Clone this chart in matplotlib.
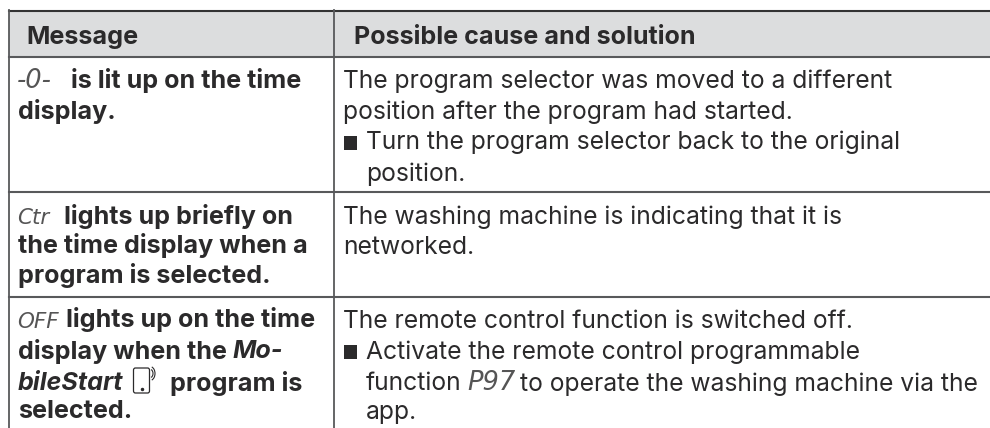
import matplotlib
matplotlib.use("Agg")
import matplotlib.pyplot as plt
from matplotlib.patches import Rectangle, FancyBboxPatch, Arc

W, H = 990, 428
FONT = "Inter"
INK = "#2b2a2b"
LINE = "#58595b"

headers = ["Message", "Possible cause and solution"]

# each line is a list of (x, text, style) runs: b = bold, i = bold italic, r = regular
# s and t are the segment display codes, x None carries on after the previous run
left_lines = [
    (87, [(17, "-0-", "t"), (71, "is lit up on the time", "b")]),
    (118, [(18, "display.", "b")]),
    (223, [(17, "Ctr", "s"), (64, "lights up briefly on", "b")]),
    (253, [(18, "the time display when a", "b")]),
    (283, [(18, "program is selected.", "b")]),
    (327, [(17, "OFF", "s"), (66, "lights up on the time", "b")]),
    (358, [(18, "display when the ", "b"), (None, "Mo-", "i")]),
    (390, [(18, "bileStart", "i"), (170, "program is", "b")]),
    (418, [(18, "selected.", "b")]),
]

right_lines = [
    (87, [(343, "The program selector was moved to a different", "r")]),
    (118, [(343, "position after the program had started.", "r")]),
    (149, [(366, "Turn the program selector back to the original", "r")]),
    (180, [(366, "position.", "r")]),
    (223, [(343, "The washing machine is indicating that it is", "r")]),
    (253, [(343, "networked.", "r")]),
    (327, [(343, "The remote control function is switched off.", "r")]),
    (358, [(366, "Activate the remote control programmable", "r")]),
    (390, [(366, "function", "r"), (467, "P97", "t"), (520, "to operate the washing machine via the", "r")]),
    (418, [(366, "app.", "r")]),
]

bullet_rows = [149, 358]

styles = {
    "b": dict(family=FONT, weight="bold", fontsize=18.1),
    "i": dict(family=FONT, weight="bold", style="italic", fontsize=18.1),
    "r": dict(family=FONT, weight="normal", fontsize=17.75),
    "s": dict(family="DejaVu Sans", style="italic", fontsize=15.5, alpha=0.8),
    "t": dict(family="DejaVu Sans", style="italic", fontsize=18.5, alpha=0.8),
}

fig = plt.figure(figsize=(W / 100, H / 100), dpi=100)
ax = fig.add_axes([0, 0, 1, 1])
ax.set_xlim(0, W)
ax.set_ylim(H, 0)
ax.axis("off")


def draw_runs(y, runs):
    rend = fig.canvas.get_renderer()
    x = 0
    for x0, txt, st in runs:
        if x0 is not None:
            x = x0
        ax.text(x, y, txt, color=INK, va="baseline", ha="left", **styles[st])
        # trailing spaces count in the layout, so measure with a stop character
        probe = ax.text(0, 0, txt + ".", **styles[st])
        stop = ax.text(0, 0, ".", **styles[st])
        x += probe.get_window_extent(rend).width - stop.get_window_extent(rend).width
        probe.remove()
        stop.remove()


# header band and grid, the page crop cuts the table at the right and bottom
ax.add_patch(Rectangle((9, 10), W - 9, 47, fc="#dcddde", ec="none", zorder=0))
ax.plot([9, W], [10.5, 10.5], color="#333333", lw=1.5)
for y in [57, 192, 297]:
    ax.plot([9, W], [y, y], color=LINE, lw=1.5)
for x in [9, 334]:
    ax.plot([x, x], [10, H], color=LINE, lw=1.3)

draw_runs(43.5, [(26, headers[0], "b")])
draw_runs(43.5, [(354, headers[1], "b")])

for y, runs in left_lines:
    draw_runs(y + 0.5, runs)
for y, runs in right_lines:
    draw_runs(y + 0.5, runs)

for y in bullet_rows:
    ax.add_patch(Rectangle((343.5, y - 13), 13.5, 13.5, fc=INK, ec="none"))

# phone icon with signal arcs
ax.add_patch(FancyBboxPatch((133.5, 368), 16, 25, boxstyle="round,pad=0,rounding_size=2",
                            fc="none", ec=INK, lw=0.9))
ax.plot([141.5], [388.5], marker="o", ms=1.5, color=INK)
for r in [6, 10]:
    ax.add_patch(Arc((150, 373.5), r * 1.0, r * 1.4, theta1=-75, theta2=75, ec=INK, lw=0.8))

fig.savefig("out.png", dpi=100)
